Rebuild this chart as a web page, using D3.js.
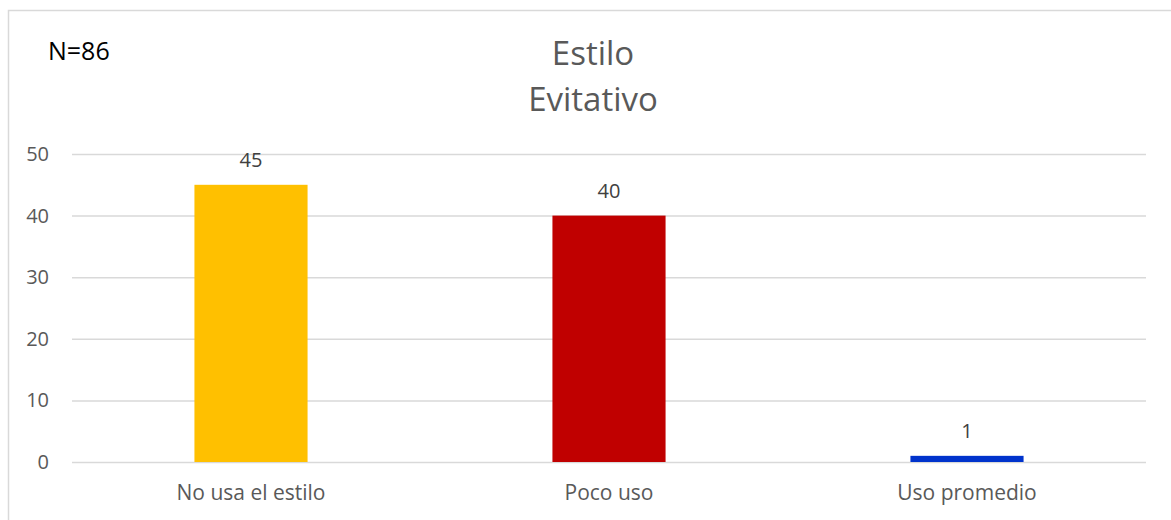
<!DOCTYPE html>
<html>
<head>
<meta charset="utf-8">
<script src="https://cdn.jsdelivr.net/npm/d3@7"></script>
<style>
    body { margin: 0; background: #fff; }
    svg { display: block; font-family: "Open Sans", sans-serif; }
</style>
</head>
<body>
<svg id="chart" width="1171" height="520"></svg>
<script>
"use strict";

const categories = ["No usa el estilo", "Poco uso", "Uso promedio"];
const values = [45, 40, 1];
const barColors = ["#FFC000", "#C00000", "#0033CC"];
const yTicks = [0, 10, 20, 30, 40, 50];
const titleLines = ["Estilo", "Evitativo"];
const sampleLabel = "N=86";

{
    const svg = d3.select("#chart"),
        plotLeft = 72,
        plotRight = 1146,
        plotTop = 154,
        plotBottom = 462,
        textGray = "#595959",
        gridGray = "#d9d9d9";

    // chart frame
    svg.append("rect")
        .attr("x", 8.5).attr("y", 10.5)
        .attr("width", 1300).attr("height", 700)
        .attr("fill", "#fff")
        .attr("stroke", gridGray)
        .attr("stroke-width", 1.5);

    const x = d3.scaleBand()
        .domain(categories)
        .range([plotLeft, plotRight])
        .paddingInner(0.684)
        .paddingOuter(0.342);

    const y = d3.scaleLinear()
        .domain([0, 50])
        .range([plotBottom, plotTop]);

    // gridlines + tick labels
    const yAxis = svg.append("g")
        .attr("transform", `translate(${plotLeft},0)`)
        .call(d3.axisLeft(y).tickValues(yTicks).tickSize(-(plotRight - plotLeft)).tickPadding(23));

    yAxis.select(".domain").remove();
    yAxis.selectAll(".tick line")
        .attr("stroke", gridGray)
        .attr("stroke-width", 1.5);
    yAxis.selectAll(".tick text")
        .attr("fill", textGray)
        .attr("font-size", 20)
        .attr("font-family", "Open Sans, sans-serif");

    // bars
    svg.append("g").selectAll("rect")
        .data(values)
        .join("rect")
        .attr("x", (d, i) => x(categories[i]))
        .attr("y", d => y(d))
        .attr("width", x.bandwidth())
        .attr("height", d => y(0) - y(d))
        .attr("fill", (d, i) => barColors[i]);

    // value labels
    svg.append("g").selectAll("text")
        .data(values)
        .join("text")
        .attr("x", (d, i) => x(categories[i]) + x.bandwidth() / 2)
        .attr("y", d => y(d) - 18)
        .attr("text-anchor", "middle")
        .attr("fill", "#404040")
        .attr("font-size", 20)
        .text(d => d);

    // category labels
    svg.append("g").selectAll("text")
        .data(categories)
        .join("text")
        .attr("x", d => x(d) + x.bandwidth() / 2)
        .attr("y", 500)
        .attr("text-anchor", "middle")
        .attr("fill", textGray)
        .attr("font-size", 21)
        .text(d => d);

    // title
    svg.append("text")
        .attr("text-anchor", "middle")
        .attr("fill", textGray)
        .attr("font-size", 33)
        .selectAll("tspan")
        .data(titleLines)
        .join("tspan")
        .attr("x", 593)
        .attr("y", (d, i) => 65 + i * 46)
        .text(d => d);

    svg.append("text")
        .attr("x", 48)
        .attr("y", 60)
        .attr("fill", "#000")
        .attr("font-size", 25)
        .text(sampleLabel);
}
</script>
</body>
</html>
